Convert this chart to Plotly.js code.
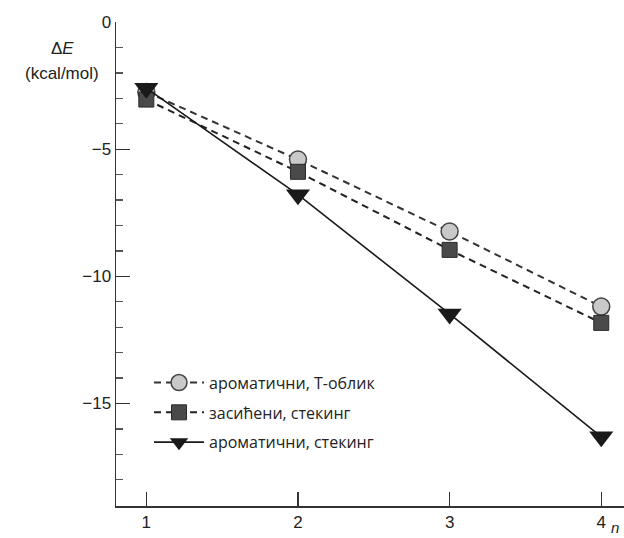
<!DOCTYPE html>
<html>
<head>
<meta charset="utf-8">
<script src="https://cdn.plot.ly/plotly-3.0.1.min.js"></script>
<style>html,body{margin:0;padding:0;background:#fff;}#chart{width:624px;height:538px;}</style>
</head>
<body>
<div id="chart"></div>
<script>
const nValues = [1, 2, 3, 4];
const aromaticT = [-2.75, -5.41, -8.24, -11.19];
const saturatedStack = [-3.05, -5.89, -8.96, -11.83];
const aromaticStack = [-2.6, -6.79, -11.48, -16.31];
const seriesNames = ['ароматични, Т-облик', 'засићени, стекинг', 'ароматични, стекинг'];
const yTickVals = [0, -5, -10, -15];
const yTickText = ['0', '\u22125', '\u221210', '\u221215'];
const xTickVals = [1, 2, 3, 4];

const traces = [
  {
    x: nValues, y: aromaticT, name: seriesNames[0], mode: 'lines+markers',
    line: {color: '#333', width: 2, dash: '7px,5px'},
    marker: {symbol: 'circle', size: 17, color: '#c9c9c9', line: {color: '#444', width: 1.5}},
    legendgroup: 'a', cliponaxis: false
  },
  {
    x: nValues, y: saturatedStack, name: seriesNames[1], mode: 'lines+markers',
    line: {color: '#222', width: 2, dash: '7px,5px'},
    marker: {symbol: 'square', size: 15, color: '#4a4a4a', line: {color: '#2a2a2a', width: 1}},
    legendgroup: 'b', cliponaxis: false
  },
  {
    x: nValues, y: aromaticStack, name: seriesNames[2], mode: 'lines+markers',
    line: {color: '#1a1a1a', width: 1.6},
    marker: {symbol: 'triangle-down', size: 21, color: '#1a1a1a'},
    legendgroup: 'c', cliponaxis: false
  }
];

const layout = {
  width: 624, height: 538,
  margin: {l: 116, r: 0, t: 22, b: 32},
  paper_bgcolor: '#fff', plot_bgcolor: '#fff',
  font: {family: 'Liberation Sans, Arial, sans-serif', size: 16, color: '#222'},
  showlegend: true,
  legend: {
    x: 0.065, y: 0.29, xanchor: 'left', yanchor: 'top',
    font: {family: 'Open Sans, sans-serif', size: 16, color: '#222'},
    bgcolor: 'rgba(0,0,0,0)', tracegroupgap: 6, itemwidth: 50
  },
  xaxis: {
    range: [0.8, 4.15], showgrid: false, zeroline: false,
    showline: true, linecolor: '#333', linewidth: 1.5,
    tickmode: 'array', tickvals: xTickVals, ticktext: xTickVals.map(String),
    ticks: 'inside', ticklen: 14, tickwidth: 1.3, tickcolor: '#333',
    tickfont: {size: 17, color: '#222'}
  },
  yaxis: {
    range: [-19.03, 0], showgrid: false, zeroline: false,
    showline: true, linecolor: '#333', linewidth: 1.5,
    tickmode: 'array', tickvals: yTickVals, ticktext: yTickText,
    ticks: 'inside', ticklen: 14, tickwidth: 1.3, tickcolor: '#333',
    tickfont: {size: 17, color: '#222'},
    minor: {dtick: 1, ticks: 'inside', ticklen: 7, tickwidth: 1.3, tickcolor: '#555', showgrid: false}
  },
  annotations: [
    {xref: 'paper', yref: 'paper', x: -0.106, y: 0.946, xanchor: 'center', yanchor: 'middle',
     text: '\u0394<i>E</i>', showarrow: false, font: {size: 17, color: '#222'}},
    {xref: 'paper', yref: 'paper', x: -0.106, y: 0.893, xanchor: 'center', yanchor: 'middle',
     text: '(kcal/mol)', showarrow: false, font: {size: 17, color: '#222'}},
    {xref: 'paper', yref: 'paper', x: 0.982, y: -0.044, xanchor: 'center', yanchor: 'middle',
     text: '<i>n</i>', showarrow: false, font: {size: 15, color: '#222'}}
  ]
};

Plotly.newPlot('chart', traces, layout, {displayModeBar: false, staticPlot: true});
</script>
</body>
</html>
